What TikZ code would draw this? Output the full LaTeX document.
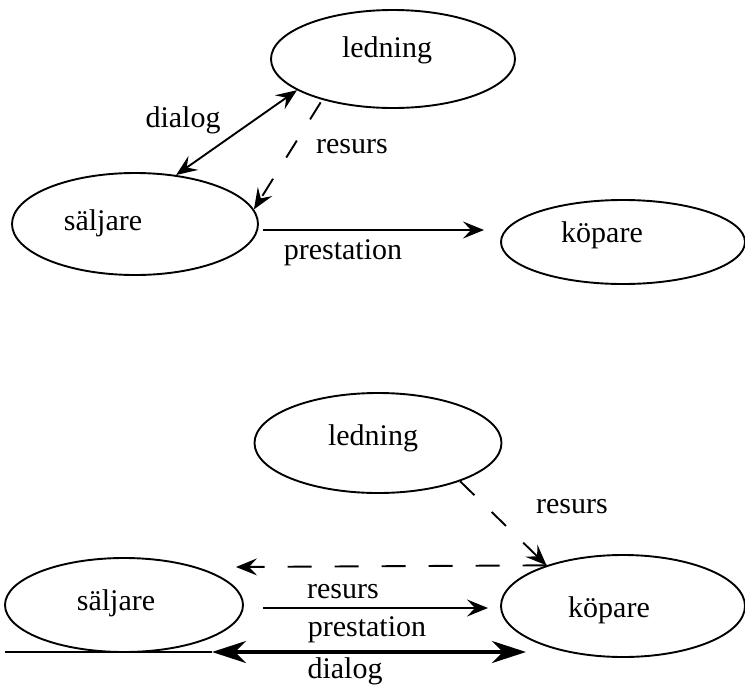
\documentclass[tikz,border=0pt]{standalone}
\usepackage{fontspec}
\setmainfont{Liberation Serif}
\usetikzlibrary{shapes.geometric,arrows.meta}
\begin{document}
\begin{tikzpicture}[x=1pt,y=-1pt,
  oval/.style={ellipse, draw, line width=1.9pt, inner sep=0pt},
  lbl/.style={font=\fontsize{30}{36}\selectfont, inner sep=0pt},
  conn/.style={line width=1.9pt},
  tip/.style={-{Stealth[length=21pt,width=17pt,inset=8pt]}},
  bitip/.style={{Stealth[length=21pt,width=17pt,inset=8pt]}-{Stealth[length=21pt,width=17pt,inset=8pt]}},
  bigtip/.style={{Stealth[length=34pt,width=22pt,inset=11pt]}-{Stealth[length=34pt,width=22pt,inset=11pt]}}]
\useasboundingbox (0,0) rectangle (745,686);

% ---------- upper diagram ----------
\node[oval, minimum width=244pt, minimum height=98pt]  (L1) at (393,59)  {};
\node[oval, minimum width=246pt, minimum height=102pt] (S1) at (135,224) {};
\node[oval, minimum width=244pt, minimum height=84pt]  (K1) at (623,242) {};
\node[lbl] (tL1) at (387,50)  {ledning};
\node[lbl] (tS1) at (103,223) {säljare};
\node[lbl] (tK1) at (602,235) {köpare};

\draw[conn, bitip] (L1.198.6) -- (S1.50.5);
\draw[conn, tip, dash pattern=on 20pt off 25pt, shorten <=3pt] (L1.210.4) -- (S1.7.9);
\coordinate (p1) at (263,230);
\coordinate (p2) at (484,230);
\draw[conn, tip] (p1) -- (p2);

\node[lbl] (dia1) at (183,120) {dialog};
\node[lbl] (res1) at (352,147) {resurs};
\node[lbl] (pre1) at (343,253) {prestation};

% ---------- lower diagram ----------
\node[oval, minimum width=247pt, minimum height=100pt] (L2) at (378,443) {};
\node[oval, minimum width=238pt, minimum height=94pt]  (S2) at (124,605) {};
\node[oval, minimum width=244pt, minimum height=102pt] (K2) at (623,606) {};
\node[lbl] (tL2) at (373,438) {ledning};
\node[lbl] (tS2) at (116,603) {säljare};
\node[lbl] (tK2) at (609,610) {köpare};

\draw[conn, tip, dash pattern=on 20pt off 24pt] (L2.-25.4) -- (K2.152.8);
\coordinate (dl) at (236,567);
\draw[conn, tip, dash pattern=on 24pt off 23pt] (K2.152.8) -- (dl);
\coordinate (r1) at (263,608);
\coordinate (r2) at (488,608);
\draw[conn, tip] (r1) -- (r2);
\coordinate (d0) at (5,652);
\coordinate (d1) at (212,652);
\coordinate (d2) at (526,652);
\draw[conn] (d0) -- (d1);
\draw[line width=3.6pt, bigtip] (d1) -- (d2);

\node[lbl] (res2) at (572,507) {resurs};
\node[lbl] (res3) at (343,592) {resurs};
\node[lbl] (pre2) at (367,630) {prestation};
\node[lbl] (dia2) at (345,671) {dialog};
\end{tikzpicture}
\end{document}
